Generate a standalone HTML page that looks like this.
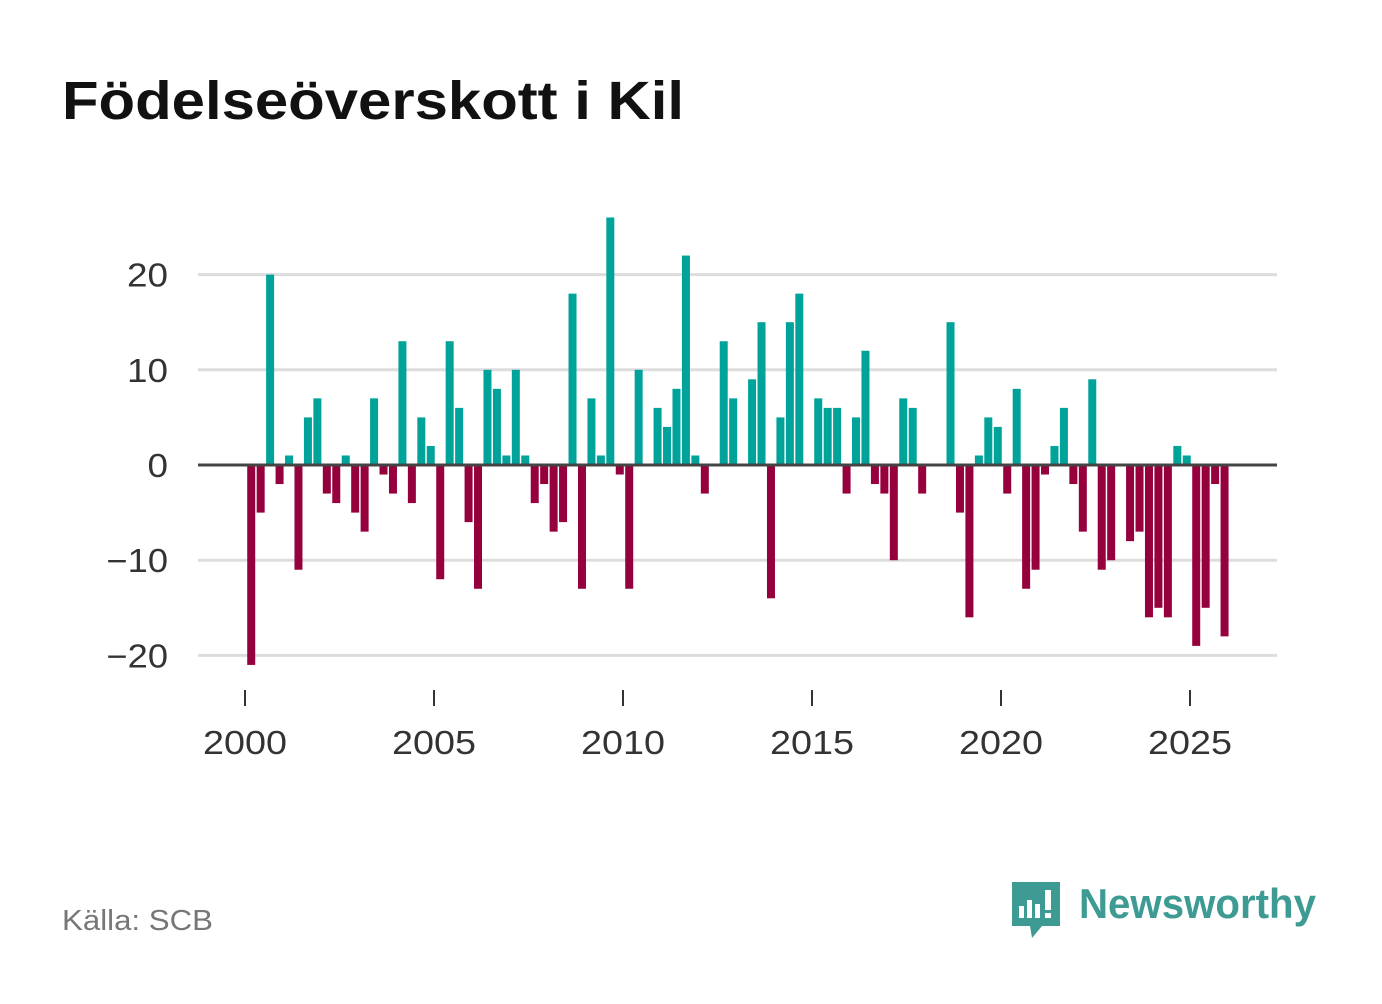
<!DOCTYPE html>
<html><head><meta charset="utf-8"><style>
body{margin:0;background:#fff;width:1382px;height:999px;overflow:hidden;font-family:"Liberation Sans","DejaVu Sans",sans-serif}
</style></head><body>
<svg width="1382" height="999" viewBox="0 0 1382 999">
<text x="62" y="119" font-size="54" font-weight="bold" fill="#111" textLength="622" lengthAdjust="spacingAndGlyphs">Födelseöverskott i Kil</text>
<g id="grid"></g><g id="bars"></g><g id="xaxis"></g>
<text x="62" y="930" font-size="29" fill="#777" textLength="151" lengthAdjust="spacingAndGlyphs">Källa: SCB</text>
<g>
<path d="M1012 882 h48 v44 h-18 l-10 12 l-2 -12 h-18 z" fill="#3d9b94"/>
<rect x="1019" y="906" width="5" height="12" fill="#fff"/><rect x="1027" y="900" width="5" height="18" fill="#fff"/><rect x="1035" y="904" width="5" height="14" fill="#fff"/><rect x="1045" y="890" width="6" height="20" fill="#fff"/><rect x="1045" y="913" width="6" height="5" fill="#fff"/>
<text x="1079" y="918" font-size="42" font-weight="bold" fill="#3d9b94" textLength="237" lengthAdjust="spacingAndGlyphs">Newsworthy</text>
</g>
</svg>
<script>
const values=[-21,-5,20,-2,1,-11,5,7,-3,-4,1,-5,-7,7,-1,-3,13,-4,5,2,-12,13,6,-6,-13,10,8,1,10,1,-4,-2,-7,-6,
18,-13,7,1,26,-1,-13,10,0,6,4,8,22,1,-3,0,13,7,0,9,15,-14,5,15,18,0,7,6,6,-3,5,12,-2,-3,-10,
7,6,-3,0,0,15,-5,-16,1,5,4,-3,8,-13,-11,-1,2,6,-2,-7,9,-11,-10,0,-8,-7,-16,-15,-16,2,1,-19,-15,-2,-18];
const yTicks=[20,10,0,-10,-20];
const yTickLabels=["20","10","0","\u221210","\u221220"];
const xYears=[2000,2005,2010,2015,2020,2025];
const startYear=2000;
const NS="http://www.w3.org/2000/svg";
const y=v=>465-v*9.52;
const xYear=t=>245+(t-startYear)*37.8;
const xq=i=>xYear(startYear+i/4)+1.5+4.72;
function mk(tag,attrs,parent){const e=document.createElementNS(NS,tag);for(const k in attrs)e.setAttribute(k,attrs[k]);document.getElementById(parent).appendChild(e);return e;}
yTicks.forEach((t,k)=>{
 if(t!==0){const l=mk('line',{x1:198,x2:1277,y1:y(t),y2:y(t),stroke:'#ddd','stroke-width':3},'grid');
 
 }
 const lbl=yTickLabels[k];
 const tx=mk('text',{x:168,y:y(t)+12,'font-size':33,fill:'#333','text-anchor':'end',textLength:lbl.length*20.5,lengthAdjust:'spacingAndGlyphs'},'grid');
 tx.textContent=lbl;
 
 
});
values.forEach((v,i)=>{
 const c=xq(i);const top=Math.min(y(v),y(0)),h=Math.abs(y(v)-y(0));
 const r=mk('rect',{x:c-4,y:top,width:8,height:h,fill:v>=0?'#00a39a':'#96003c'},'bars');
 
 
});
const z=mk('line',{x1:198,x2:1277,y1:y(0),y2:y(0),stroke:'#444','stroke-width':3},'bars');


xYears.forEach(t=>{
 const tk=mk('line',{x1:xYear(t),x2:xYear(t),y1:690,y2:706,stroke:'#333','stroke-width':2},'xaxis');
 
 
 const tx=mk('text',{x:xYear(t),y:754,'font-size':33,fill:'#333','text-anchor':'middle',textLength:84,lengthAdjust:'spacingAndGlyphs'},'xaxis');
 tx.textContent=String(t);
 
 
});
</script>
</body></html>
